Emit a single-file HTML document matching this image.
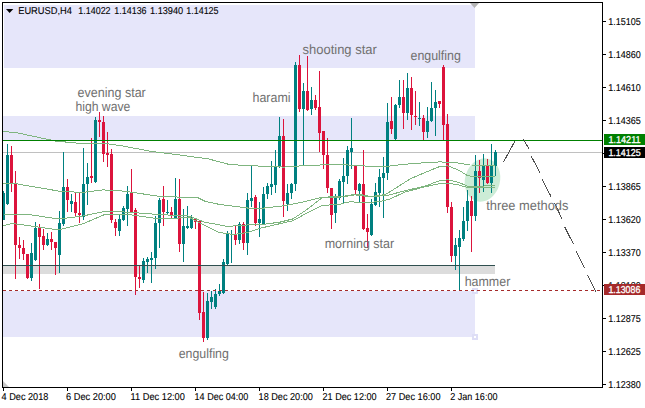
<!DOCTYPE html><html><head><meta charset="utf-8"><style>html,body{margin:0;padding:0;background:#fff;}svg{display:block;}text{font-family:"Liberation Sans",Arial,sans-serif;text-rendering:geometricPrecision;}</style></head><body>
<svg width="645" height="408" viewBox="0 0 645 408">
<rect x="0" y="0" width="645" height="408" fill="#fff"/>
<g fill="#E6E6FA" shape-rendering="crispEdges">
<rect x="4" y="5" width="471" height="63"/>
<rect x="3" y="116" width="472" height="24"/>
<rect x="3" y="291" width="472" height="46"/>
</g>
<g shape-rendering="crispEdges"><rect x="472" y="288" width="6" height="6" fill="#DEDEF6"/><rect x="474" y="290" width="2" height="2" fill="#fff"/><rect x="472" y="334" width="6" height="6" fill="#DEDEF6"/><rect x="474" y="336" width="2" height="2" fill="#fff"/></g>
<ellipse cx="482.5" cy="180" rx="17.5" ry="22" transform="rotate(15 482.5 180)" fill="#CCECD6"/>
<rect x="3" y="266" width="492" height="8" fill="#DCDCDC" shape-rendering="crispEdges"/>
<rect x="3" y="152" width="599" height="1" fill="#C0C0C0" shape-rendering="crispEdges"/>
<g shape-rendering="crispEdges">
<rect x="3" y="191" width="1" height="29" fill="#008080"/>
<rect x="3" y="193" width="2" height="27" fill="#008080"/>
<rect x="7" y="144" width="1" height="61" fill="#008080"/>
<rect x="6" y="155" width="3" height="49" fill="#008080"/>
<rect x="11" y="146" width="1" height="46" fill="#DC143C"/>
<rect x="10" y="155" width="3" height="28" fill="#DC143C"/>
<rect x="15" y="171" width="1" height="108" fill="#DC143C"/>
<rect x="14" y="183" width="3" height="62" fill="#DC143C"/>
<rect x="19" y="237" width="1" height="22" fill="#DC143C"/>
<rect x="18" y="245" width="3" height="3" fill="#DC143C"/>
<rect x="23" y="240" width="1" height="20" fill="#DC143C"/>
<rect x="22" y="248" width="3" height="6" fill="#DC143C"/>
<rect x="27" y="254" width="1" height="25" fill="#DC143C"/>
<rect x="26" y="254" width="3" height="24" fill="#DC143C"/>
<rect x="31" y="243" width="1" height="38" fill="#008080"/>
<rect x="30" y="253" width="3" height="25" fill="#008080"/>
<rect x="35" y="222" width="1" height="39" fill="#008080"/>
<rect x="34" y="228" width="3" height="32" fill="#008080"/>
<rect x="39" y="224" width="1" height="65" fill="#DC143C"/>
<rect x="38" y="227" width="3" height="10" fill="#DC143C"/>
<rect x="43" y="229" width="1" height="21" fill="#DC143C"/>
<rect x="42" y="236" width="3" height="9" fill="#DC143C"/>
<rect x="47" y="233" width="1" height="13" fill="#008080"/>
<rect x="46" y="239" width="3" height="6" fill="#008080"/>
<rect x="51" y="232" width="1" height="18" fill="#DC143C"/>
<rect x="50" y="239" width="3" height="3" fill="#DC143C"/>
<rect x="55" y="242" width="1" height="33" fill="#DC143C"/>
<rect x="54" y="242" width="3" height="6" fill="#DC143C"/>
<rect x="59" y="211" width="1" height="62" fill="#008080"/>
<rect x="58" y="223" width="3" height="32" fill="#008080"/>
<rect x="63" y="152" width="1" height="74" fill="#008080"/>
<rect x="62" y="187" width="3" height="37" fill="#008080"/>
<rect x="67" y="179" width="1" height="33" fill="#DC143C"/>
<rect x="66" y="187" width="3" height="13" fill="#DC143C"/>
<rect x="71" y="194" width="1" height="18" fill="#008080"/>
<rect x="70" y="201" width="3" height="3" fill="#008080"/>
<rect x="75" y="193" width="1" height="23" fill="#DC143C"/>
<rect x="74" y="202" width="3" height="11" fill="#DC143C"/>
<rect x="79" y="193" width="1" height="30" fill="#DC143C"/>
<rect x="78" y="213" width="3" height="2" fill="#DC143C"/>
<rect x="83" y="148" width="1" height="72" fill="#008080"/>
<rect x="82" y="184" width="3" height="33" fill="#008080"/>
<rect x="87" y="163" width="1" height="42" fill="#008080"/>
<rect x="86" y="177" width="3" height="7" fill="#008080"/>
<rect x="91" y="138" width="1" height="45" fill="#DC143C"/>
<rect x="90" y="176" width="3" height="2" fill="#DC143C"/>
<rect x="95" y="117" width="1" height="66" fill="#008080"/>
<rect x="94" y="120" width="3" height="62" fill="#008080"/>
<rect x="99" y="112" width="1" height="25" fill="#DC143C"/>
<rect x="98" y="120" width="3" height="2" fill="#DC143C"/>
<rect x="103" y="116" width="1" height="46" fill="#DC143C"/>
<rect x="102" y="122" width="3" height="32" fill="#DC143C"/>
<rect x="107" y="132" width="1" height="35" fill="#DC143C"/>
<rect x="106" y="153" width="3" height="2" fill="#DC143C"/>
<rect x="111" y="149" width="1" height="74" fill="#DC143C"/>
<rect x="110" y="154" width="3" height="66" fill="#DC143C"/>
<rect x="115" y="219" width="1" height="17" fill="#DC143C"/>
<rect x="114" y="222" width="3" height="6" fill="#DC143C"/>
<rect x="119" y="215" width="1" height="21" fill="#008080"/>
<rect x="118" y="219" width="3" height="12" fill="#008080"/>
<rect x="123" y="206" width="1" height="15" fill="#008080"/>
<rect x="122" y="208" width="3" height="12" fill="#008080"/>
<rect x="127" y="186" width="1" height="40" fill="#008080"/>
<rect x="126" y="194" width="3" height="15" fill="#008080"/>
<rect x="131" y="169" width="1" height="44" fill="#DC143C"/>
<rect x="130" y="192" width="3" height="20" fill="#DC143C"/>
<rect x="135" y="208" width="1" height="87" fill="#DC143C"/>
<rect x="134" y="210" width="3" height="67" fill="#DC143C"/>
<rect x="139" y="266" width="1" height="22" fill="#DC143C"/>
<rect x="138" y="277" width="3" height="2" fill="#DC143C"/>
<rect x="143" y="258" width="1" height="25" fill="#008080"/>
<rect x="142" y="261" width="3" height="19" fill="#008080"/>
<rect x="147" y="257" width="1" height="16" fill="#008080"/>
<rect x="146" y="259" width="3" height="3" fill="#008080"/>
<rect x="151" y="252" width="1" height="31" fill="#008080"/>
<rect x="150" y="258" width="3" height="2" fill="#008080"/>
<rect x="155" y="216" width="1" height="53" fill="#008080"/>
<rect x="154" y="223" width="3" height="35" fill="#008080"/>
<rect x="159" y="198" width="1" height="50" fill="#008080"/>
<rect x="158" y="200" width="3" height="23" fill="#008080"/>
<rect x="163" y="186" width="1" height="40" fill="#DC143C"/>
<rect x="162" y="199" width="3" height="13" fill="#DC143C"/>
<rect x="167" y="200" width="1" height="15" fill="#008080"/>
<rect x="166" y="212" width="3" height="1" fill="#008080"/>
<rect x="171" y="207" width="1" height="12" fill="#DC143C"/>
<rect x="170" y="212" width="3" height="3" fill="#DC143C"/>
<rect x="175" y="178" width="1" height="41" fill="#008080"/>
<rect x="174" y="199" width="3" height="19" fill="#008080"/>
<rect x="179" y="179" width="1" height="73" fill="#DC143C"/>
<rect x="178" y="199" width="3" height="45" fill="#DC143C"/>
<rect x="183" y="209" width="1" height="53" fill="#008080"/>
<rect x="182" y="226" width="3" height="18" fill="#008080"/>
<rect x="187" y="206" width="1" height="23" fill="#008080"/>
<rect x="186" y="226" width="3" height="2" fill="#008080"/>
<rect x="191" y="215" width="1" height="14" fill="#008080"/>
<rect x="190" y="218" width="3" height="10" fill="#008080"/>
<rect x="195" y="218" width="1" height="11" fill="#DC143C"/>
<rect x="194" y="218" width="3" height="4" fill="#DC143C"/>
<rect x="199" y="221" width="1" height="99" fill="#DC143C"/>
<rect x="198" y="221" width="3" height="92" fill="#DC143C"/>
<rect x="203" y="292" width="1" height="50" fill="#DC143C"/>
<rect x="202" y="312" width="3" height="26" fill="#DC143C"/>
<rect x="207" y="293" width="1" height="47" fill="#008080"/>
<rect x="206" y="301" width="3" height="37" fill="#008080"/>
<rect x="211" y="291" width="1" height="18" fill="#008080"/>
<rect x="210" y="297" width="3" height="5" fill="#008080"/>
<rect x="215" y="289" width="1" height="20" fill="#008080"/>
<rect x="214" y="294" width="3" height="13" fill="#008080"/>
<rect x="219" y="284" width="1" height="12" fill="#008080"/>
<rect x="218" y="291" width="3" height="3" fill="#008080"/>
<rect x="223" y="259" width="1" height="35" fill="#008080"/>
<rect x="222" y="262" width="3" height="31" fill="#008080"/>
<rect x="227" y="231" width="1" height="35" fill="#008080"/>
<rect x="226" y="234" width="3" height="30" fill="#008080"/>
<rect x="231" y="230" width="1" height="33" fill="#008080"/>
<rect x="230" y="234" width="3" height="1" fill="#008080"/>
<rect x="235" y="226" width="1" height="19" fill="#DC143C"/>
<rect x="234" y="234" width="3" height="6" fill="#DC143C"/>
<rect x="239" y="222" width="1" height="22" fill="#008080"/>
<rect x="238" y="224" width="3" height="16" fill="#008080"/>
<rect x="243" y="222" width="1" height="28" fill="#DC143C"/>
<rect x="242" y="224" width="3" height="19" fill="#DC143C"/>
<rect x="247" y="193" width="1" height="62" fill="#008080"/>
<rect x="246" y="200" width="3" height="43" fill="#008080"/>
<rect x="251" y="166" width="1" height="41" fill="#008080"/>
<rect x="250" y="198" width="3" height="3" fill="#008080"/>
<rect x="255" y="195" width="1" height="31" fill="#DC143C"/>
<rect x="254" y="197" width="3" height="26" fill="#DC143C"/>
<rect x="259" y="202" width="1" height="35" fill="#008080"/>
<rect x="258" y="219" width="3" height="4" fill="#008080"/>
<rect x="263" y="187" width="1" height="38" fill="#008080"/>
<rect x="262" y="194" width="3" height="31" fill="#008080"/>
<rect x="267" y="183" width="1" height="16" fill="#008080"/>
<rect x="266" y="186" width="3" height="8" fill="#008080"/>
<rect x="271" y="161" width="1" height="34" fill="#008080"/>
<rect x="270" y="184" width="3" height="3" fill="#008080"/>
<rect x="275" y="150" width="1" height="43" fill="#008080"/>
<rect x="274" y="167" width="3" height="18" fill="#008080"/>
<rect x="279" y="117" width="1" height="51" fill="#008080"/>
<rect x="278" y="136" width="3" height="31" fill="#008080"/>
<rect x="283" y="119" width="1" height="98" fill="#DC143C"/>
<rect x="282" y="136" width="3" height="65" fill="#DC143C"/>
<rect x="287" y="184" width="1" height="27" fill="#008080"/>
<rect x="286" y="193" width="3" height="11" fill="#008080"/>
<rect x="291" y="183" width="1" height="16" fill="#008080"/>
<rect x="290" y="184" width="3" height="9" fill="#008080"/>
<rect x="295" y="62" width="1" height="129" fill="#008080"/>
<rect x="294" y="65" width="3" height="119" fill="#008080"/>
<rect x="299" y="55" width="1" height="57" fill="#DC143C"/>
<rect x="298" y="65" width="3" height="44" fill="#DC143C"/>
<rect x="303" y="83" width="1" height="83" fill="#008080"/>
<rect x="302" y="91" width="3" height="18" fill="#008080"/>
<rect x="307" y="56" width="1" height="55" fill="#DC143C"/>
<rect x="306" y="91" width="3" height="19" fill="#DC143C"/>
<rect x="311" y="87" width="1" height="28" fill="#008080"/>
<rect x="310" y="100" width="3" height="9" fill="#008080"/>
<rect x="315" y="95" width="1" height="15" fill="#DC143C"/>
<rect x="314" y="100" width="3" height="8" fill="#DC143C"/>
<rect x="319" y="71" width="1" height="81" fill="#DC143C"/>
<rect x="318" y="107" width="3" height="26" fill="#DC143C"/>
<rect x="323" y="131" width="1" height="38" fill="#DC143C"/>
<rect x="322" y="131" width="3" height="24" fill="#DC143C"/>
<rect x="327" y="138" width="1" height="55" fill="#DC143C"/>
<rect x="326" y="155" width="3" height="33" fill="#DC143C"/>
<rect x="331" y="188" width="1" height="41" fill="#DC143C"/>
<rect x="330" y="188" width="3" height="27" fill="#DC143C"/>
<rect x="335" y="194" width="1" height="29" fill="#008080"/>
<rect x="334" y="198" width="3" height="15" fill="#008080"/>
<rect x="339" y="179" width="1" height="21" fill="#008080"/>
<rect x="338" y="181" width="3" height="17" fill="#008080"/>
<rect x="343" y="158" width="1" height="46" fill="#008080"/>
<rect x="342" y="176" width="3" height="6" fill="#008080"/>
<rect x="347" y="146" width="1" height="38" fill="#008080"/>
<rect x="346" y="150" width="3" height="26" fill="#008080"/>
<rect x="351" y="118" width="1" height="51" fill="#008080"/>
<rect x="350" y="148" width="3" height="4" fill="#008080"/>
<rect x="355" y="166" width="1" height="29" fill="#DC143C"/>
<rect x="354" y="166" width="3" height="24" fill="#DC143C"/>
<rect x="359" y="183" width="1" height="19" fill="#008080"/>
<rect x="358" y="184" width="3" height="7" fill="#008080"/>
<rect x="363" y="150" width="1" height="80" fill="#DC143C"/>
<rect x="362" y="184" width="3" height="45" fill="#DC143C"/>
<rect x="367" y="214" width="1" height="34" fill="#DC143C"/>
<rect x="366" y="228" width="3" height="4" fill="#DC143C"/>
<rect x="371" y="199" width="1" height="37" fill="#008080"/>
<rect x="370" y="204" width="3" height="31" fill="#008080"/>
<rect x="375" y="183" width="1" height="23" fill="#008080"/>
<rect x="374" y="192" width="3" height="13" fill="#008080"/>
<rect x="379" y="169" width="1" height="38" fill="#008080"/>
<rect x="378" y="177" width="3" height="16" fill="#008080"/>
<rect x="383" y="157" width="1" height="61" fill="#008080"/>
<rect x="382" y="173" width="3" height="5" fill="#008080"/>
<rect x="387" y="103" width="1" height="77" fill="#008080"/>
<rect x="386" y="122" width="3" height="51" fill="#008080"/>
<rect x="391" y="97" width="1" height="37" fill="#DC143C"/>
<rect x="390" y="121" width="3" height="8" fill="#DC143C"/>
<rect x="395" y="104" width="1" height="36" fill="#008080"/>
<rect x="394" y="105" width="3" height="34" fill="#008080"/>
<rect x="399" y="80" width="1" height="28" fill="#008080"/>
<rect x="398" y="97" width="3" height="8" fill="#008080"/>
<rect x="403" y="80" width="1" height="49" fill="#DC143C"/>
<rect x="402" y="97" width="3" height="16" fill="#DC143C"/>
<rect x="407" y="73" width="1" height="47" fill="#008080"/>
<rect x="406" y="88" width="3" height="25" fill="#008080"/>
<rect x="411" y="77" width="1" height="53" fill="#DC143C"/>
<rect x="410" y="88" width="3" height="27" fill="#DC143C"/>
<rect x="415" y="91" width="1" height="34" fill="#DC143C"/>
<rect x="414" y="116" width="3" height="1" fill="#DC143C"/>
<rect x="419" y="102" width="1" height="24" fill="#008080"/>
<rect x="418" y="118" width="3" height="1" fill="#008080"/>
<rect x="423" y="115" width="1" height="26" fill="#DC143C"/>
<rect x="422" y="118" width="3" height="14" fill="#DC143C"/>
<rect x="427" y="107" width="1" height="31" fill="#008080"/>
<rect x="426" y="121" width="3" height="11" fill="#008080"/>
<rect x="431" y="82" width="1" height="40" fill="#008080"/>
<rect x="430" y="108" width="3" height="13" fill="#008080"/>
<rect x="435" y="90" width="1" height="46" fill="#008080"/>
<rect x="434" y="102" width="3" height="6" fill="#008080"/>
<rect x="439" y="101" width="1" height="7" fill="#DC143C"/>
<rect x="438" y="101" width="3" height="3" fill="#DC143C"/>
<rect x="443" y="65" width="1" height="75" fill="#DC143C"/>
<rect x="442" y="67" width="3" height="58" fill="#DC143C"/>
<rect x="447" y="114" width="1" height="99" fill="#DC143C"/>
<rect x="446" y="124" width="3" height="83" fill="#DC143C"/>
<rect x="451" y="202" width="1" height="60" fill="#DC143C"/>
<rect x="450" y="207" width="3" height="49" fill="#DC143C"/>
<rect x="455" y="238" width="1" height="32" fill="#008080"/>
<rect x="454" y="245" width="3" height="11" fill="#008080"/>
<rect x="459" y="230" width="1" height="60" fill="#008080"/>
<rect x="458" y="238" width="3" height="9" fill="#008080"/>
<rect x="463" y="207" width="1" height="34" fill="#008080"/>
<rect x="462" y="221" width="3" height="18" fill="#008080"/>
<rect x="467" y="190" width="1" height="41" fill="#008080"/>
<rect x="466" y="201" width="3" height="20" fill="#008080"/>
<rect x="471" y="196" width="1" height="56" fill="#DC143C"/>
<rect x="470" y="201" width="3" height="15" fill="#DC143C"/>
<rect x="475" y="155" width="1" height="66" fill="#008080"/>
<rect x="474" y="171" width="3" height="45" fill="#008080"/>
<rect x="479" y="160" width="1" height="33" fill="#DC143C"/>
<rect x="478" y="171" width="3" height="7" fill="#DC143C"/>
<rect x="483" y="154" width="1" height="38" fill="#008080"/>
<rect x="482" y="165" width="3" height="15" fill="#008080"/>
<rect x="487" y="159" width="1" height="25" fill="#DC143C"/>
<rect x="486" y="165" width="3" height="18" fill="#DC143C"/>
<rect x="491" y="144" width="1" height="49" fill="#008080"/>
<rect x="490" y="165" width="3" height="18" fill="#008080"/>
<rect x="495" y="150" width="1" height="26" fill="#008080"/>
<rect x="494" y="152" width="3" height="14" fill="#008080"/>
</g>
<polyline points="3.0,131.7 14.7,132.3 55.9,141.1 78.0,143.2 108.8,144.0 120.0,145.5 151.9,151.5 181.3,155.2 200.9,157.9 208.0,158.8 227.8,164.1 240.0,165.2 257.7,166.0 284.2,167.1 306.2,165.5 320.0,165.0 345.0,164.8 360.0,165.7 382.0,167.0 404.0,164.3 426.0,162.6 440.0,161.9 455.0,162.6 469.8,165.0 495.0,165.2" fill="none" stroke="#7FB57F" stroke-width="1" shape-rendering="crispEdges"/>
<polyline points="3.0,183.7 17.6,184.0 58.8,191.1 82.4,192.5 103.0,189.9 123.5,191.1 160.0,196.4 180.0,197.1 198.0,197.7 205.0,201.3 218.8,204.3 248.2,208.1 262.0,208.3 284.2,205.7 306.2,201.3 321.7,197.3 339.3,196.5 345.0,196.0 355.0,194.3 362.0,194.9 370.0,196.5 380.0,195.5 386.0,194.0 390.0,191.7 410.6,178.7 425.0,172.5 440.0,166.4 448.0,165.9 459.0,170.3 467.4,175.6 472.3,176.5 495.0,176.8" fill="none" stroke="#7FB57F" stroke-width="1" shape-rendering="crispEdges"/>
<polyline points="3.0,214.0 29.4,214.6 58.8,219.0 82.4,216.1 105.9,211.1 129.4,212.3 160.0,214.6 189.4,216.1 204.0,222.0 227.6,226.4 248.2,224.9 262.0,224.5 279.7,222.2 293.0,218.9 306.2,210.1 321.7,198.0 339.3,197.1 345.0,196.5 355.0,194.9 370.0,196.8 380.0,196.0 386.0,195.8 404.5,190.9 425.3,186.0 440.0,180.5 448.0,179.8 459.0,182.5 467.4,186.0 472.3,186.7 495.0,185.4" fill="none" stroke="#7FB57F" stroke-width="1" shape-rendering="crispEdges"/>
<polyline points="3.0,225.8 11.8,223.4 29.4,225.8 58.8,229.9 82.4,224.0 105.9,214.0 129.4,214.6 160.0,219.0 189.4,217.5 218.8,232.3 233.5,234.6 248.2,232.3 262.0,227.8 293.0,220.7 306.2,213.4 321.7,205.7 330.0,204.9 340.0,204.2 345.0,202.8 350.0,201.9 370.0,202.4 380.0,201.4 390.0,199.1 404.5,192.2 425.3,186.7 440.0,183.6 448.0,183.1 459.0,185.0 467.4,187.5 472.3,188.0 495.0,187.0" fill="none" stroke="#7FB57F" stroke-width="1" shape-rendering="crispEdges"/>
<g shape-rendering="crispEdges">
<rect x="3" y="265" width="492" height="1" fill="#2F4F4F"/>
<rect x="3" y="140" width="599" height="1" fill="#008000"/>
<line x1="3" y1="290.5" x2="602" y2="290.5" stroke="#A52A2A" stroke-width="1" stroke-dasharray="3 3"/>
</g>
<g stroke="#505050" stroke-width="1" fill="none" shape-rendering="crispEdges">
<line x1="503.3" y1="162.4" x2="515.1" y2="140.8"/>
<line x1="523.4" y1="139.3" x2="528.8" y2="148.6"/>
<line x1="530.9" y1="155.5" x2="539.8" y2="172.5"/>
<line x1="542.1" y1="179" x2="551.1" y2="196.7"/>
<line x1="554.5" y1="202.9" x2="562.3" y2="219.6"/>
<line x1="564.8" y1="227.2" x2="573.6" y2="244.4"/>
<line x1="576.2" y1="251.3" x2="584.8" y2="268.3"/>
<line x1="587.4" y1="274.8" x2="595.8" y2="291.9"/>
</g>
<g fill="#707070" font-size="13.5px" text-rendering="geometricPrecision">
<text x="77.6" y="97" textLength="68.2" lengthAdjust="spacingAndGlyphs">evening star</text>
<text x="75.4" y="111" textLength="54.9" lengthAdjust="spacingAndGlyphs">high wave</text>
<text x="252.5" y="102" textLength="38.0" lengthAdjust="spacingAndGlyphs">harami</text>
<text x="302.5" y="54" textLength="74.3" lengthAdjust="spacingAndGlyphs">shooting star</text>
<text x="410.5" y="60" textLength="50.4" lengthAdjust="spacingAndGlyphs">engulfing</text>
<text x="324.7" y="248" textLength="69.5" lengthAdjust="spacingAndGlyphs">morning star</text>
<text x="178.7" y="358" textLength="50.2" lengthAdjust="spacingAndGlyphs">engulfing</text>
<text x="486.2" y="210" textLength="82.2" lengthAdjust="spacingAndGlyphs">three methods</text>
<text x="464.7" y="286" textLength="45.6" lengthAdjust="spacingAndGlyphs">hammer</text>
</g>
<polygon points="470,3 479,3 474.5,8" fill="#B4B4B4"/>
<polygon points="3,381 3,387 9,387" fill="#C8C8C8"/>
<g shape-rendering="crispEdges" fill="#000">
<rect x="2" y="2" width="601" height="1"/>
<rect x="2" y="2" width="1" height="386"/>
<rect x="602" y="2" width="1" height="386"/>
<rect x="2" y="387" width="601" height="1"/>
<rect x="603" y="153" width="3" height="1"/>
<rect x="603" y="285" width="3" height="1"/>
<rect x="603" y="21" width="3" height="1"/>
<rect x="603" y="54" width="3" height="1"/>
<rect x="603" y="87" width="3" height="1"/>
<rect x="603" y="120" width="3" height="1"/>
<rect x="603" y="186" width="3" height="1"/>
<rect x="603" y="219" width="3" height="1"/>
<rect x="603" y="252" width="3" height="1"/>
<rect x="603" y="318" width="3" height="1"/>
<rect x="603" y="351" width="3" height="1"/>
<rect x="603" y="384" width="3" height="1"/>
<rect x="3" y="388" width="1" height="3"/>
<rect x="67" y="388" width="1" height="3"/>
<rect x="131" y="388" width="1" height="3"/>
<rect x="195" y="388" width="1" height="3"/>
<rect x="259" y="388" width="1" height="3"/>
<rect x="323" y="388" width="1" height="3"/>
<rect x="387" y="388" width="1" height="3"/>
<rect x="451" y="388" width="1" height="3"/>
</g>
<g fill="#000" font-size="10px" stroke="#000" stroke-width="0.1">
<text x="608.2" y="25" textLength="32.6" lengthAdjust="spacingAndGlyphs">1.15105</text>
<text x="608.2" y="58" textLength="32.6" lengthAdjust="spacingAndGlyphs">1.14860</text>
<text x="608.2" y="91" textLength="32.6" lengthAdjust="spacingAndGlyphs">1.14610</text>
<text x="608.2" y="124" textLength="32.6" lengthAdjust="spacingAndGlyphs">1.14365</text>
<text x="608.2" y="190" textLength="32.6" lengthAdjust="spacingAndGlyphs">1.13865</text>
<text x="608.2" y="223" textLength="32.6" lengthAdjust="spacingAndGlyphs">1.13620</text>
<text x="608.2" y="256" textLength="32.6" lengthAdjust="spacingAndGlyphs">1.13370</text>
<text x="608.2" y="322" textLength="32.6" lengthAdjust="spacingAndGlyphs">1.12875</text>
<text x="608.2" y="355" textLength="32.6" lengthAdjust="spacingAndGlyphs">1.12625</text>
<text x="608.2" y="388" textLength="32.6" lengthAdjust="spacingAndGlyphs">1.12380</text>
<text x="608.2" y="289" textLength="32.6" lengthAdjust="spacingAndGlyphs">1.13120</text>
</g>
<g shape-rendering="crispEdges"><rect x="604" y="134" width="41" height="11" fill="#008000"/><rect x="604" y="147" width="41" height="11" fill="#000"/><rect x="604" y="284" width="41" height="11" fill="#A52A2A"/></g>
<g fill="#fff" font-size="10px" stroke="#fff" stroke-width="0.3">
<text x="608.4" y="143" textLength="32.2" lengthAdjust="spacingAndGlyphs">1.14211</text>
<text x="608.4" y="156" textLength="32.2" lengthAdjust="spacingAndGlyphs">1.14125</text>
<text x="608.4" y="293" textLength="32" lengthAdjust="spacingAndGlyphs">1.13086</text>
</g>
<g fill="#000" font-size="10px" stroke="#000" stroke-width="0.1">
<text x="1.6" y="400" textLength="46.8" lengthAdjust="spacingAndGlyphs">4 Dec 2018</text>
<text x="66.1" y="400" textLength="49.8" lengthAdjust="spacingAndGlyphs">6 Dec 20:00</text>
<text x="130.6" y="400" textLength="54.3" lengthAdjust="spacingAndGlyphs">11 Dec 12:00</text>
<text x="194.6" y="400" textLength="53.8" lengthAdjust="spacingAndGlyphs">14 Dec 04:00</text>
<text x="258.6" y="400" textLength="54.3" lengthAdjust="spacingAndGlyphs">18 Dec 20:00</text>
<text x="322.5" y="400" textLength="54.1" lengthAdjust="spacingAndGlyphs">21 Dec 12:00</text>
<text x="386" y="400" textLength="54.5" lengthAdjust="spacingAndGlyphs">27 Dec 16:00</text>
<text x="450.2" y="400" textLength="47.3" lengthAdjust="spacingAndGlyphs">2 Jan 16:00</text>
</g>
<polygon points="6,9 13.3,9 9.6,13" fill="#000"/>
<g fill="#000" font-size="10px" stroke="#000" stroke-width="0.1">
<text x="18.2" y="14" textLength="53.8" lengthAdjust="spacingAndGlyphs">EURUSD,H4</text>
<text x="78.3" y="14" textLength="32.3" lengthAdjust="spacingAndGlyphs">1.14022</text>
<text x="114.3" y="14" textLength="32.3" lengthAdjust="spacingAndGlyphs">1.14136</text>
<text x="150" y="14" textLength="33.2" lengthAdjust="spacingAndGlyphs">1.13940</text>
<text x="186.2" y="14" textLength="32.4" lengthAdjust="spacingAndGlyphs">1.14125</text>
</g>
</svg></body></html>
